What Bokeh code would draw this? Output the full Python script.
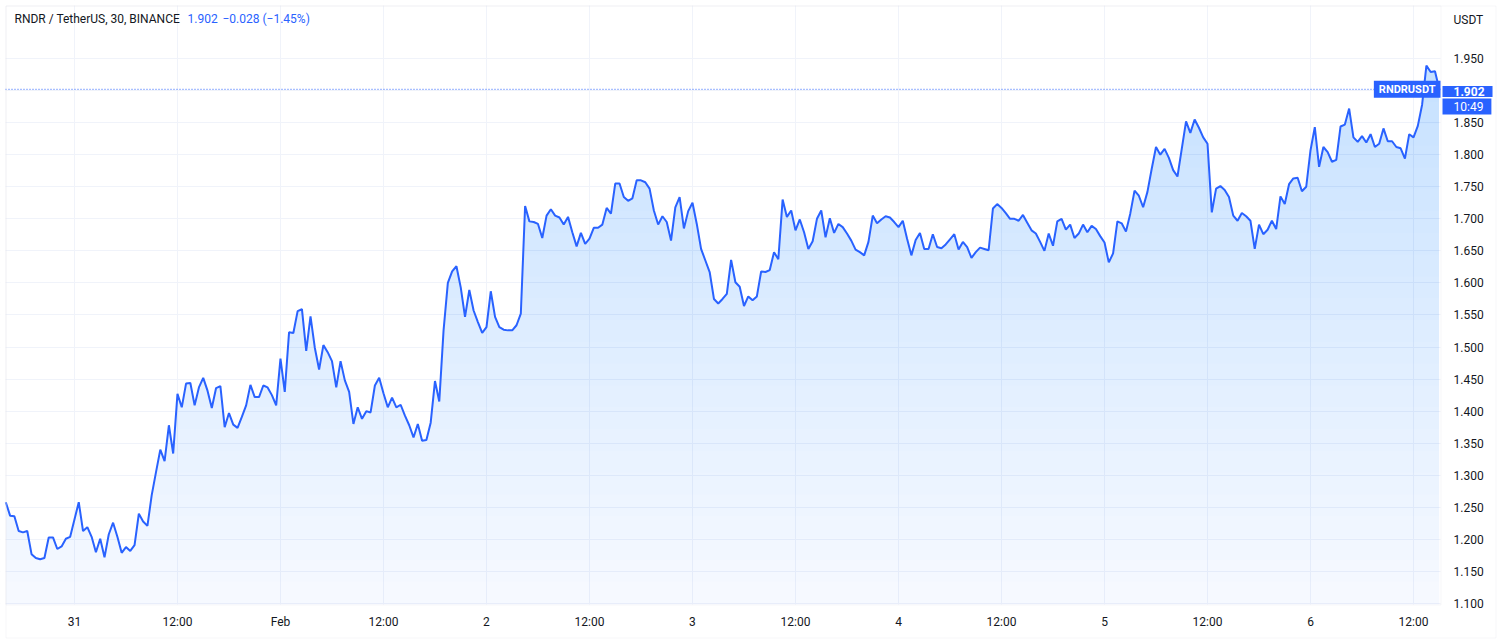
import numpy as np
import pandas as pd
from bokeh.plotting import figure
from bokeh.models import FixedTicker, Label, Range1d, NumeralTickFormatter, BoxAnnotation
from bokeh.embed import file_html
from bokeh.resources import INLINE

# ---------------- data ----------------
symbol_title = "RNDR / TetherUS, 30, BINANCE"
quote_price = "1.902"
quote_change = "\u22120.028 (\u22121.45%)"
ticker_name = "RNDRUSDT"
currency = "USDT"
last_price = 1.902
countdown = "10:49"
start_time = "2023-01-30 16:00"

prices = [
    1.258, 1.237, 1.236, 1.213, 1.211, 1.213, 1.177, 1.171, 1.169, 1.171,
    1.203, 1.203, 1.185, 1.189, 1.201, 1.204, 1.231, 1.258, 1.213, 1.219,
    1.204, 1.180, 1.201, 1.172, 1.208, 1.226, 1.204, 1.179, 1.188, 1.182,
    1.191, 1.240, 1.228, 1.221, 1.269, 1.305, 1.340, 1.322, 1.378, 1.334,
    1.427, 1.406, 1.443, 1.444, 1.409, 1.437, 1.452, 1.432, 1.405, 1.436,
    1.439, 1.375, 1.397, 1.379, 1.374, 1.391, 1.409, 1.441, 1.422, 1.422,
    1.440, 1.437, 1.425, 1.409, 1.482, 1.430, 1.523, 1.522, 1.556, 1.559,
    1.494, 1.548, 1.499, 1.465, 1.503, 1.492, 1.478, 1.437, 1.478, 1.448,
    1.430, 1.380, 1.406, 1.388, 1.400, 1.398, 1.440, 1.452, 1.428, 1.406,
    1.421, 1.406, 1.410, 1.393, 1.378, 1.359, 1.380, 1.354, 1.355, 1.382,
    1.447, 1.415, 1.526, 1.600, 1.618, 1.626, 1.593, 1.547, 1.589, 1.557,
    1.539, 1.522, 1.531, 1.587, 1.547, 1.531, 1.527, 1.526, 1.526, 1.534,
    1.552, 1.720, 1.696, 1.695, 1.692, 1.670, 1.705, 1.715, 1.705, 1.702,
    1.691, 1.703, 1.679, 1.657, 1.678, 1.661, 1.669, 1.686, 1.686, 1.691,
    1.717, 1.708, 1.755, 1.755, 1.734, 1.728, 1.732, 1.760, 1.760, 1.757,
    1.747, 1.713, 1.691, 1.704, 1.695, 1.666, 1.718, 1.734, 1.685, 1.712,
    1.725, 1.692, 1.653, 1.635, 1.617, 1.575, 1.568, 1.575, 1.583, 1.636,
    1.601, 1.594, 1.564, 1.579, 1.573, 1.579, 1.618, 1.617, 1.620, 1.648,
    1.637, 1.730, 1.703, 1.713, 1.682, 1.699, 1.679, 1.653, 1.665, 1.700,
    1.713, 1.671, 1.701, 1.678, 1.692, 1.687, 1.677, 1.666, 1.652, 1.648,
    1.643, 1.664, 1.705, 1.693, 1.699, 1.704, 1.702, 1.695, 1.687, 1.697,
    1.669, 1.643, 1.667, 1.678, 1.653, 1.653, 1.676, 1.656, 1.654, 1.660,
    1.668, 1.676, 1.652, 1.664, 1.656, 1.639, 1.648, 1.655, 1.653, 1.651,
    1.716, 1.723, 1.717, 1.709, 1.700, 1.700, 1.697, 1.706, 1.694, 1.682,
    1.677, 1.664, 1.650, 1.677, 1.658, 1.696, 1.700, 1.683, 1.691, 1.670,
    1.677, 1.691, 1.679, 1.689, 1.684, 1.673, 1.663, 1.632, 1.646, 1.696,
    1.693, 1.680, 1.708, 1.744, 1.736, 1.718, 1.742, 1.778, 1.812, 1.800,
    1.809, 1.795, 1.776, 1.766, 1.809, 1.852, 1.834, 1.855, 1.842, 1.827,
    1.817, 1.710, 1.747, 1.751, 1.745, 1.734, 1.705, 1.697, 1.709, 1.704,
    1.697, 1.653, 1.691, 1.676, 1.683, 1.697, 1.684, 1.735, 1.723, 1.754,
    1.763, 1.764, 1.743, 1.750, 1.807, 1.843, 1.781, 1.812, 1.804, 1.789,
    1.792, 1.844, 1.847, 1.872, 1.827, 1.820, 1.829, 1.819, 1.832, 1.812,
    1.817, 1.841, 1.821, 1.821, 1.812, 1.810, 1.794, 1.832, 1.827, 1.845,
    1.878, 1.939, 1.929, 1.930, 1.902,
]

x_tick_times = ["2023-01-31 00:00", "2023-01-31 12:00", "2023-02-01 00:00", "2023-02-01 12:00",
                "2023-02-02 00:00", "2023-02-02 12:00", "2023-02-03 00:00", "2023-02-03 12:00",
                "2023-02-04 00:00", "2023-02-04 12:00", "2023-02-05 00:00", "2023-02-05 12:00",
                "2023-02-06 00:00", "2023-02-06 12:00"]
x_tick_labels = ["31", "12:00", "Feb", "12:00", "2", "12:00", "3", "12:00",
                 "4", "12:00", "5", "12:00", "6", "12:00"]
y_ticks = [1.10, 1.15, 1.20, 1.25, 1.30, 1.35, 1.40, 1.45, 1.50, 1.55,
           1.60, 1.65, 1.70, 1.75, 1.80, 1.85, 1.90, 1.95]
y_ticks_shown = [t for t in y_ticks if abs(t - 1.90) > 1e-9]

# ---------------- styles / layout ----------------
BLUE = "#2962FF"
TEXT = "#131722"
GRID = "#f0f3fa"
AXIS = "#e0e3eb"
FONT = "Roboto"
W, H = 1498, 640

times = pd.date_range(start_time, periods=len(prices), freq="30min")
p_arr = np.array(prices)
t0 = pd.Timestamp(start_time)

def ms(ts):
    return float(pd.Timestamp(ts).value // 10**6)

x_range = Range1d(start=t0 - pd.Timedelta(minutes=37), end=t0 + pd.Timedelta(hours=173.9))
y_range = Range1d(start=1.0423, end=2.0405)
pane_left = ms(t0 - pd.Timedelta(minutes=2))
scale_loc = ms(t0 + pd.Timedelta(hours=167.15))   # price-scale border
pane_top, pane_bottom = 2.0327, 1.0984

p = figure(width=W, height=H, x_axis_type="datetime", y_axis_location="right",
           x_range=x_range, y_range=y_range, output_backend="svg", toolbar_location=None,
           min_border=0, min_border_left=0, min_border_top=0, min_border_right=0,
           min_border_bottom=0)
p.background_fill_color = "white"
p.border_fill_color = "white"
p.outline_line_color = None

# gradient-like area fill
p.varea(x=times, y1=pane_bottom, y2=p_arr, fill_color=BLUE, fill_alpha=0.03)
levels = np.linspace(1.10, 1.95, 26)
for L in levels:
    p.varea(x=times, y1=L, y2=np.maximum(p_arr, L), fill_color=BLUE, fill_alpha=0.0074)

p.line(times, p_arr, line_color=BLUE, line_width=2)

# white strips outside the pane (hide grid lines there)
for kw in (dict(left=scale_loc), dict(top=pane_bottom), dict(bottom=pane_top), dict(right=pane_left)):
    p.add_layout(BoxAnnotation(fill_color="white", fill_alpha=1.0, line_color=None,
                               level="underlay", **kw))

# last-price dotted line
p.segment(x0=[pane_left], y0=[last_price], x1=[scale_loc], y1=[last_price],
          line_color=BLUE, line_dash="1 2", line_width=1)

# axes placed inside the canvas
tick_ms = [int(ms(t)) for t in x_tick_times]
p.xaxis.ticker = FixedTicker(ticks=tick_ms)
p.xaxis.major_label_overrides = {m: lab for m, lab in zip(tick_ms, x_tick_labels)}
p.xaxis.fixed_location = pane_bottom
p.yaxis.ticker = FixedTicker(ticks=y_ticks_shown)
p.ygrid.ticker = FixedTicker(ticks=y_ticks)
p.yaxis.formatter = NumeralTickFormatter(format="0.000")
p.yaxis.fixed_location = scale_loc
for ax in (p.xaxis[0], p.yaxis[0]):
    ax.axis_line_color = None
    ax.major_tick_line_color = None
    ax.minor_tick_line_color = None
    ax.major_tick_out = 0
    ax.major_tick_in = 0
    ax.major_label_text_color = TEXT
    ax.major_label_text_font = FONT
    ax.major_label_text_font_size = "12px"
p.xaxis.major_label_standoff = 10
p.yaxis.major_label_standoff = 13
p.xgrid.grid_line_color = GRID
p.ygrid.grid_line_color = GRID

# pane border and widget border (screen units: x from left, y from bottom)
p.add_layout(BoxAnnotation(left=5.5, right=1440.5, top=H - 5.5, bottom=H - 604.5,
                           left_units="screen", right_units="screen",
                           top_units="screen", bottom_units="screen",
                           fill_alpha=0, line_color=AXIS, line_width=1))
p.add_layout(BoxAnnotation(left=5.5, right=1495.5, top=H - 5.5, bottom=H - 637.5,
                           left_units="screen", right_units="screen",
                           top_units="screen", bottom_units="screen",
                           fill_alpha=0, line_color=AXIS, line_width=1))

# texts
p.add_layout(Label(x=14, y=H - 18, x_units="screen", y_units="screen", text=symbol_title,
                   text_color=TEXT, text_font=FONT, text_font_size="12px", text_baseline="middle"))
p.add_layout(Label(x=187, y=H - 18, x_units="screen", y_units="screen", text=quote_price,
                   text_color=BLUE, text_font=FONT, text_font_size="12px", text_baseline="middle"))
p.add_layout(Label(x=222, y=H - 18, x_units="screen", y_units="screen", text=quote_change,
                   text_color=BLUE, text_font=FONT, text_font_size="12px", text_baseline="middle"))
p.add_layout(Label(x=1453, y=H - 19, x_units="screen", y_units="screen", text=currency,
                   text_color=TEXT, text_font=FONT, text_font_size="12px", text_baseline="middle"))
p.add_layout(Label(x=1440, y=last_price, x_units="screen", y_units="data", text=ticker_name,
                   text_color="white", text_font=FONT, text_font_size="11px", text_font_style="bold",
                   text_align="right", text_baseline="middle",
                   background_fill_color=BLUE, padding=dict(left=5, right=5, top=2, bottom=2)))
p.add_layout(Label(x=1442, y=H - 91, x_units="screen", y_units="screen", text=f"{last_price:.3f}",
                   text_color="white", text_font=FONT, text_font_size="12px", text_font_style="bold",
                   text_align="left", text_baseline="middle",
                   background_fill_color=BLUE, padding=dict(left=11, right=8, top=1, bottom=1)))
p.add_layout(Label(x=1442, y=H - 106, x_units="screen", y_units="screen", text=countdown,
                   text_color="white", text_font=FONT, text_font_size="12px",
                   text_align="left", text_baseline="middle",
                   background_fill_color=BLUE, padding=dict(left=11, right=8, top=1, bottom=1)))

open("out.html", "w").write(file_html(p, INLINE))
